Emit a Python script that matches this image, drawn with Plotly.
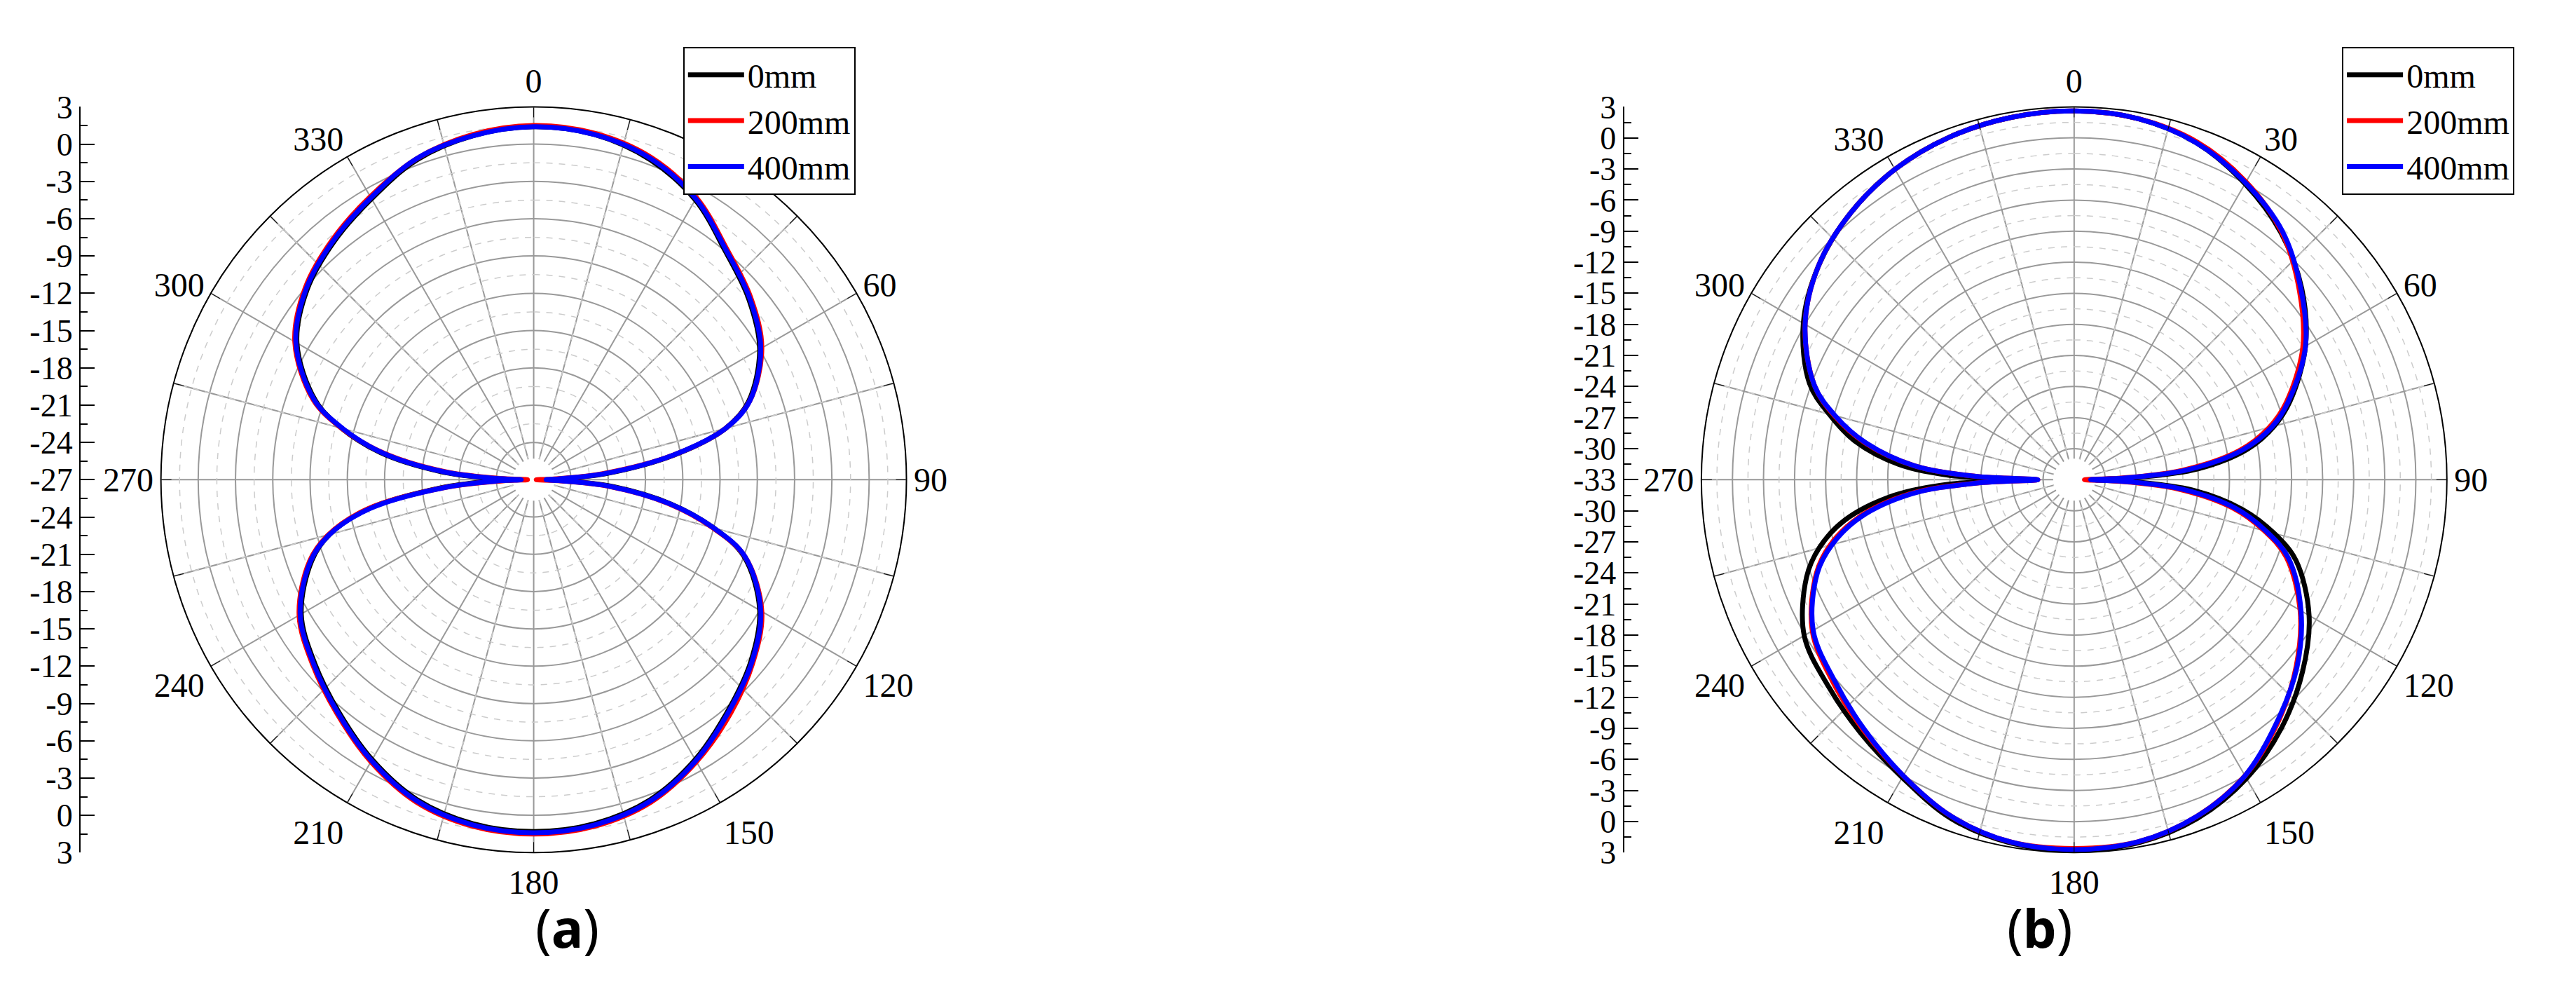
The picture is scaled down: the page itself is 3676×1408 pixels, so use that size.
import plotly.graph_objects as go

angles = [0,10,20,30,40,50,60,70,75,80,85,88,90,92,95,100,105,110,120,130,140,150,160,170,180,
          190,200,210,220,230,240,250,255,260,265,268,270,272,275,280,285,290,300,310,320,330,340,350,360]

a_0mm = [1.4,1.2,0.4,-1.0,-3.0,-4.4,-6.0,-8.6,-11.0,-15.5,-21.0,-24.5,-25.5,-24.5,-20.5,-15.8,-12.0,-9.0,-6.0,-4.2,-2.7,-1.0,0.4,1.1,1.3,
         1.1,0.4,-1.0,-2.6,-4.0,-5.4,-8.0,-10.0,-13.5,-19.5,-23.5,-25.5,-23.5,-19.5,-14.5,-11.0,-8.3,-5.0,-3.2,-2.0,-0.9,0.4,1.1,1.4]
a_200mm = [1.5,1.3,0.6,-0.8,-2.8,-4.2,-5.8,-8.5,-11.0,-15.6,-21.5,-25.5,-26.8,-25.5,-21.0,-16.0,-12.1,-8.9,-5.8,-4.0,-2.4,-0.8,0.6,1.3,1.5,
           1.3,0.6,-0.8,-2.4,-3.8,-5.2,-7.8,-9.9,-13.4,-19.8,-24.5,-26.5,-24.5,-20.0,-14.8,-11.0,-8.1,-4.8,-3.0,-1.8,-0.7,0.5,1.2,1.5]
a_400mm = [1.4,1.2,0.5,-0.9,-2.9,-4.3,-5.9,-8.5,-11.0,-15.6,-21.2,-25.0,-26.0,-25.0,-20.8,-15.9,-12.0,-8.9,-5.9,-4.1,-2.6,-0.9,0.5,1.2,1.4,
           1.2,0.5,-0.9,-2.5,-3.9,-5.3,-7.9,-10.0,-13.6,-19.8,-24.0,-26.0,-24.0,-19.8,-14.7,-11.1,-8.2,-4.9,-3.1,-1.9,-0.8,0.5,1.1,1.4]

b_0mm = [2.6,2.4,1.6,0.0,-1.9,-4.3,-7.2,-10.8,-13.0,-16.0,-21.0,-27.0,-31.0,-27.0,-21.5,-16.5,-13.0,-10.2,-6.8,-4.2,-1.8,0.3,1.8,2.6,2.8,
         2.6,1.8,0.2,-1.0,-2.0,-2.9,-5.5,-7.5,-10.5,-15.5,-21.0,-26.8,-21.0,-16.0,-11.5,-8.5,-5.8,-2.8,-0.8,0.6,1.6,2.2,2.5,2.6]
b_200mm = [2.6,2.4,1.7,0.2,-1.8,-4.6,-7.5,-11.2,-13.5,-16.8,-22.5,-28.5,-32.0,-28.5,-23.0,-17.5,-14.0,-11.2,-7.8,-5.0,-2.4,0.0,1.6,2.5,2.6,
           2.5,1.6,0.0,-1.4,-2.6,-3.8,-6.5,-8.6,-11.8,-17.0,-23.5,-29.5,-23.5,-17.5,-12.5,-9.0,-6.3,-3.0,-0.8,0.6,1.6,2.2,2.5,2.6]
b_400mm = [2.6,2.4,1.6,0.1,-1.7,-4.4,-7.2,-11.0,-13.2,-16.5,-22.0,-28.0,-31.4,-28.0,-22.5,-17.2,-13.8,-11.0,-7.7,-4.9,-2.5,0.0,1.6,2.5,2.7,
           2.5,1.6,0.0,-1.5,-2.8,-3.9,-6.6,-8.8,-12.0,-17.2,-23.5,-29.5,-23.5,-17.5,-12.6,-9.1,-6.3,-3.0,-0.8,0.6,1.6,2.2,2.5,2.6]

series_names = ["0mm", "200mm", "400mm"]
series_colors = ["#000000", "#ff0000", "#0000ff"]

FONT = "Liberation Serif"
fig = go.Figure()

def add_panel(pname, legname, rmin, rmax, data):
    r = rmin + 1.5
    while r < rmax:
        if abs((r - rmin) / 3 - round((r - rmin) / 3)) > 0.01:
            fig.add_trace(go.Scatterpolar(r=[r]*361, theta=list(range(361)), mode="lines",
                                          line=dict(color="#cccccc", width=1.5, dash="dash"),
                                          subplot=pname, showlegend=False, hoverinfo="skip"))
        r += 1.5
    for t in range(15, 360, 30):
        fig.add_trace(go.Scatterpolar(r=[rmin + 1.5, rmax], theta=[t, t], mode="lines",
                                      line=dict(color="#cccccc", width=1.5, dash="dash"),
                                      subplot=pname, showlegend=False, hoverinfo="skip"))
    # white centre disc
    fig.add_trace(go.Scatterpolar(r=[rmin], theta=[0], mode="markers",
                                  marker=dict(color="white", size=60, line=dict(width=0)),
                                  subplot=pname, showlegend=False, hoverinfo="skip"))
    for name, col, vals in zip(series_names, series_colors, data):
        fig.add_trace(go.Scatterpolar(r=vals, theta=angles, mode="lines", name=name,
                                      line=dict(color=col, width=7, shape="spline"),
                                      subplot=pname, legend=legname))

add_panel("polar", "legend", -27, 3, [a_0mm, a_200mm, a_400mm])
add_panel("polar2", "legend2", -33, 3, [b_0mm, b_200mm, b_400mm])

tickv = list(range(0, 360, 15))
tickt = [str(v) if v % 30 == 0 else "" for v in tickv]

def polar_layout(xd):
    return dict(
        domain=dict(x=xd, y=[0.128, 0.912]),
        bgcolor="white",
        radialaxis=dict(range=None, dtick=3, showticklabels=False, ticks="",
                        showline=False, gridcolor="#999999", gridwidth=1.5),
        angularaxis=dict(rotation=90, direction="clockwise", tickmode="array", tickvals=tickv,
                         ticktext=tickt, ticks="inside", ticklen=14, tickcolor="black",
                         showline=True, linecolor="black", linewidth=2,
                         gridcolor="#999999", gridwidth=1.5,
                         tickfont=dict(family=FONT, size=48, color="black")),
    )

pa = polar_layout([0.052, 0.358]); pa["radialaxis"]["range"] = [-27, 3]; pa["radialaxis"]["tick0"] = -27
pb = polar_layout([0.650, 0.956]); pb["radialaxis"]["range"] = [-33, 3]; pb["radialaxis"]["tick0"] = -33
fig.update_layout(polar=pa, polar2=pb)

def side_axis(xname, yname, half):
    vals = list(range(-half, half + 1, 3))
    text = [str(abs(v) - (half - 3)) for v in vals]
    fig.add_trace(go.Scatter(x=[0], y=[0], xaxis=xname, yaxis=yname, mode="markers",
                             marker=dict(opacity=0), showlegend=False, hoverinfo="skip"))
    return vals, text

va, ta = side_axis("x", "y", 30)
vb, tb = side_axis("x2", "y2", 36)

def yax(vals, text, half, pos):
    return dict(domain=[0.128, 0.912], range=[-half, half], anchor="free", position=pos,
                tickmode="array", tickvals=vals, ticktext=text, ticks="inside", ticklen=20,
                tickwidth=2, tickcolor="black", showline=True, linecolor="black", linewidth=2,
                showgrid=False, zeroline=False,
                minor=dict(tickmode="linear", dtick=1.5, tick0=0, ticks="inside", ticklen=10,
                           tickcolor="black", tickwidth=1.5),
                tickfont=dict(family=FONT, size=46, color="black"))

fig.update_layout(
    xaxis=dict(domain=[0.0288, 0.029], visible=False),
    xaxis2=dict(domain=[0.628, 0.6285], visible=False),
    yaxis=yax(va, ta, 30, 0.0288),
    yaxis2=yax(vb, tb, 36, 0.628),
)

leg = dict(bordercolor="black", borderwidth=2, bgcolor="white", yanchor="top", xanchor="left",
           font=dict(family=FONT, size=48, color="black"), itemwidth=80, tracegroupgap=0)
fig.update_layout(legend=dict(leg, x=0.263, y=0.975), legend2=dict(leg, x=0.907, y=0.975))

for txt, xc in [("a", 0.205), ("b", 0.803)]:
    fig.add_annotation(text="(<b>%s</b>)" % txt, x=xc, y=0.01, xref="paper", yref="paper",
                       yanchor="bottom", showarrow=False,
                       font=dict(family="Noto Sans", size=76, color="black"))

fig.update_layout(width=3676, height=1408, margin=dict(l=0, r=0, t=0, b=0),
                  paper_bgcolor="white", plot_bgcolor="white")
fig.write_html("out.html")
